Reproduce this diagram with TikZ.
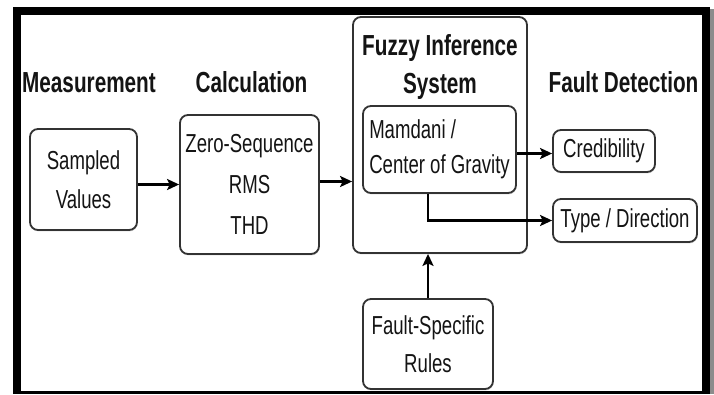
\documentclass[tikz,border=0pt]{standalone}
\usepackage{fontspec}
\usetikzlibrary{arrows.meta,shadows}
\newfontfamily\dgfont[FakeStretch=0.715]{Liberation Sans}
\newcommand\bodyfont[1]{\dgfont\fontsize{26}{#1}\selectfont}
\newcommand\headfont{\dgfont\bfseries\fontsize{29}{38}\selectfont}
\definecolor{ink}{HTML}{141414}
\definecolor{edge}{HTML}{333333}
\tikzset{
  box/.style={draw=edge, line width=1.8pt, rounded corners=8pt, fill=white,
    inner sep=0pt, text=ink, align=center,
    drop shadow={shadow xshift=0.6pt, shadow yshift=-1.4pt, opacity=0.3}},
  hdr/.style={font=\headfont, text=ink, anchor=base, inner sep=0pt},
  arr/.style={draw=black, line width=2.3pt,
    -{Stealth[length=12pt, width=11pt, inset=2.5pt]}},
}
\begin{document}
\begin{tikzpicture}[x=1pt, y=-1pt]
\useasboundingbox (0,0) rectangle (714,394);
% page frame
\fill[black!45] (710,9) rectangle (714,394);
\fill[black] (13,7) rectangle (710,15);
\fill[black] (13,7) rectangle (21,394);
\fill[black] (702,7) rectangle (710,394);
\fill[black] (13,391) rectangle (710,394);

% column headings
\node[hdr] (hmeas) at (89,92.5) {Measurement};
\node[hdr] (hcalc) at (251.5,92.5) {Calculation};
\node[hdr] (hfault) at (623.5,92.5) {Fault Detection};

% blocks
\node[box, minimum width=107pt, minimum height=101pt, font=\bodyfont{39}]
  (sv) at (83.5,179.5) {Sampled\\Values};
\node[box, minimum width=139pt, minimum height=139pt, font=\bodyfont{41}]
  (calc) at (249.5,184.5) {Zero-Sequence\\RMS\\THD};
\node[box, minimum width=174pt, minimum height=236pt] (fis) at (440,135) {};
\node[font=\headfont, text=ink, align=center, inner sep=0pt]
  (fistitle) at (440,66.5) {Fuzzy Inference\\System};
\node[box, minimum width=153pt, minimum height=87pt, align=left, font=\bodyfont{35}]
  (mam) at (439.5,149.5) {Mamdani /\\Center of Gravity};
\node[box, minimum width=102pt, minimum height=42pt, font=\bodyfont{30}]
  (cred) at (604,151) {Credibility};
\node[box, minimum width=144pt, minimum height=43pt, font=\bodyfont{30}]
  (typ) at (625,220.5) {Type / Direction};
\node[box, minimum width=130pt, minimum height=90pt, font=\bodyfont{38}]
  (rules) at (428,344) {Fault-Specific\\Rules};

% connectors
\draw[arr] (sv.east |- calc.west) -- (calc.west);
\draw[arr] ([yshift=3pt]calc.east) -- ([yshift=3pt]calc.east -| fis.west);
\draw[arr] ([yshift=-4pt]mam.east) -- ([yshift=-4pt]mam.east -| cred.west);
\draw[arr] ([xshift=-11.5pt]mam.south) |- (typ.west);
\draw[arr] (rules.north) -- (rules.north |- fis.south);
\end{tikzpicture}
\end{document}
